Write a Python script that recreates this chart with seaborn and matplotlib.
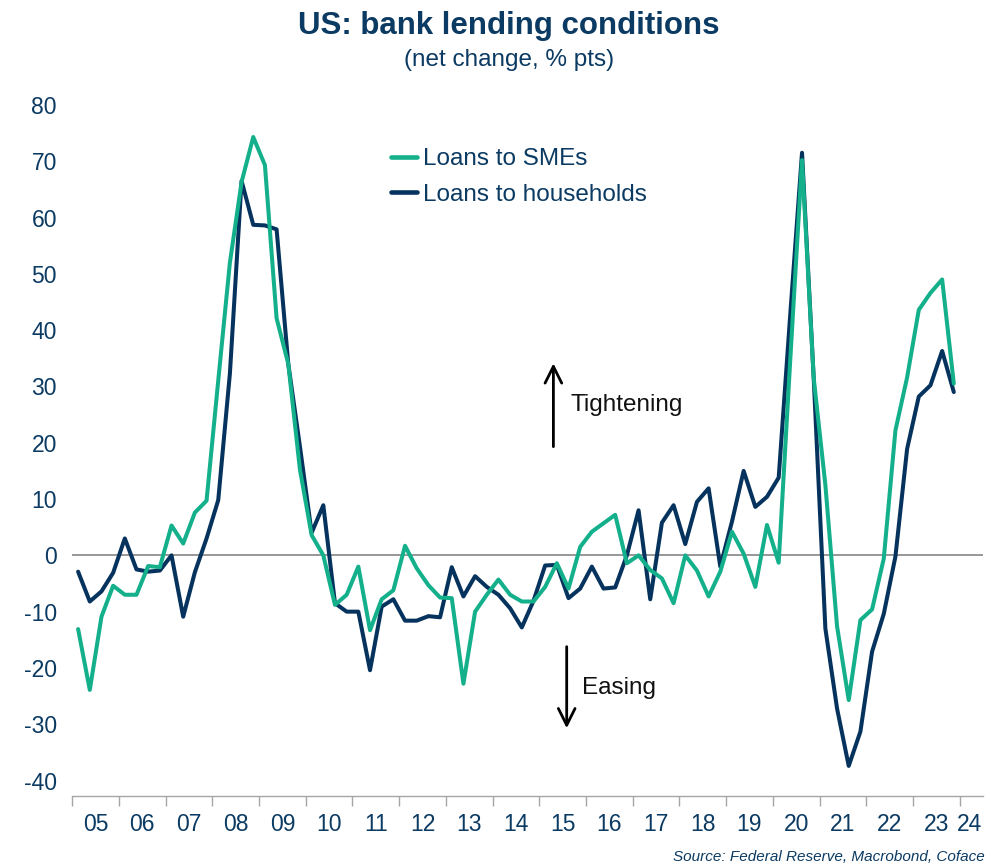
import numpy as np
import pandas as pd
import matplotlib.pyplot as plt
import seaborn as sns

# quarterly survey data, 2005Q1 - 2023Q4
quarters = pd.period_range('2005Q1', '2023Q4', freq='Q')

smes = [-13.1, -23.9, -10.9, -5.4, -7.0, -7.0, -1.9, -2.1,
        5.3, 2.1, 7.6, 9.7, 31.0, 52.0, 66.3, 74.3,
        69.3, 42.1, 34.0, 15.2, 3.6, 0.0, -8.8, -7.0,
        -2.0, -13.3, -7.8, -6.2, 1.7, -2.3, -5.3, -7.5,
        -7.6, -22.8, -10.0, -7.0, -4.3, -7.0, -8.2, -8.2,
        -5.6, -1.4, -5.9, 1.5, 4.2, 5.7, 7.2, -1.4,
        0.0, -2.6, -4.1, -8.5, 0.0, -2.7, -7.3, -2.9,
        4.2, 0.3, -5.6, 5.4, -1.3, 35.0, 70.2, 31.5,
        12.5, -12.6, -25.7, -11.5, -9.6, -0.6, 22.2, 31.6,
        43.6, 46.6, 49.0, 30.5]

households = [-2.9, -8.2, -6.4, -3.1, 3.0, -2.5, -2.9, -2.7,
              0.0, -10.9, -3.0, 3.0, 9.8, 32.3, 66.5, 58.7,
              58.6, 57.9, 34.0, 19.3, 4.0, 8.9, -8.5, -10.0,
              -10.0, -20.4, -9.1, -7.8, -11.6, -11.6, -10.8, -11.0,
              -2.1, -7.3, -3.7, -5.6, -7.0, -9.4, -12.8, -8.1,
              -1.8, -1.7, -7.6, -5.9, -2.0, -5.9, -5.7, 0.0,
              8.0, -7.8, 5.8, 8.9, 2.0, 9.5, 11.9, -2.0,
              6.0, 15.0, 8.6, 10.4, 13.8, 43.0, 71.5, 31.5,
              -13.0, -27.2, -37.4, -31.3, -17.1, -10.4, -0.2, 18.9,
              28.2, 30.2, 36.3, 29.0]

series_names = ['Loans to SMEs', 'Loans to households']
colors = {'Loans to SMEs': '#13b08b', 'Loans to households': '#05335d'}
years = list(range(2005, 2025))
year_labels = [str(y)[2:] for y in years]

navy = '#0b3a62'

t = np.asarray(quarters.year + (quarters.quarter - 0.5) / 4, dtype=float)
df = pd.DataFrame({
    'date': np.concatenate([t, t]),
    'value': smes + households,
    'series': [series_names[0]] * len(t) + [series_names[1]] * len(t),
})

sns.set_theme(style='white')
plt.rcParams['font.family'] = ['Liberation Sans', 'DejaVu Sans']
plt.rcParams['axes.unicode_minus'] = False

fig = plt.figure(figsize=(10.08, 8.68), dpi=100)
ax = fig.add_axes([0.0717, 0.0829, 0.9035, 0.8092])

ax.axhline(0, color='#8f8f8f', lw=1.3, zorder=1)
# households drawn first so the SME line sits on top
sns.lineplot(data=df, x='date', y='value', hue='series', hue_order=series_names[::-1],
             palette=colors, linewidth=2.9, sort=False, ax=ax, zorder=3)

ax.set_xlim(2005, 2024.5)
ax.set_ylim(-42.75, 82)
ax.set_xlabel('')
ax.set_ylabel('')
ax.set_yticks(range(-40, 81, 10))

# year boundaries as major ticks, labels centred in each year on minor ticks
ax.set_xticks(years)
ax.set_xticklabels([])
label_pos = [y + 0.5 for y in years[:-1]] + [2024.22]
ax.set_xticks(label_pos, minor=True)
ax.set_xticklabels(year_labels, minor=True)
ax.tick_params(axis='x', which='major', bottom=True, length=7, width=1,
               color='#a6a6a6', direction='out')
ax.tick_params(axis='x', which='minor', bottom=True, length=0, pad=12,
               labelsize=16.5, labelcolor=navy)
ax.tick_params(axis='y', left=False, length=0, pad=11, labelsize=16.5,
               labelcolor=navy)

for side in ['left', 'top', 'right']:
    ax.spines[side].set_visible(False)
ax.spines['bottom'].set_color('#a6a6a6')
ax.spines['bottom'].set_linewidth(1)

handles, labels = ax.get_legend_handles_labels()
order = [labels.index(n) for n in series_names]
leg = ax.legend([handles[i] for i in order], [labels[i] for i in order],
                loc='upper left', bbox_to_anchor=(0.3876, 0.829),
                bbox_transform=fig.transFigure, frameon=False, fontsize=17.5,
                handlelength=1.1, handletextpad=0.22, borderpad=0,
                borderaxespad=0, labelspacing=0.55, labelcolor=navy)
for line in leg.get_lines():
    line.set_linewidth(3.3)

fig.text(0.505, 0.9695, 'US: bank lending conditions', ha='center', va='center',
         fontsize=22.5, fontweight='bold', color=navy)
fig.text(0.505, 0.931, '(net change, % pts)', ha='center', va='center',
         fontsize=17.5, color=navy)

# tightening / easing arrows
ax.annotate('', xy=(0.549, 0.5814), xytext=(0.549, 0.4854), xycoords='figure fraction',
            arrowprops=dict(arrowstyle='->', color='black', lw=2, mutation_scale=30,
                            shrinkA=0, shrinkB=0))
fig.text(0.5655, 0.5334, 'Tightening', ha='left', va='center', fontsize=17.5,
         color='#111111')
ax.annotate('', xy=(0.5622, 0.1610), xytext=(0.5622, 0.2550), xycoords='figure fraction',
            arrowprops=dict(arrowstyle='->', color='black', lw=2, mutation_scale=30,
                            shrinkA=0, shrinkB=0))
fig.text(0.5771, 0.2070, 'Easing', ha='left', va='center', fontsize=17.5,
         color='#111111')

fig.text(0.977, 0.0125, 'Source: Federal Reserve, Macrobond, Coface', ha='right',
         va='center', fontsize=11, style='italic', color=navy)

fig.savefig('out.png', dpi=100)
